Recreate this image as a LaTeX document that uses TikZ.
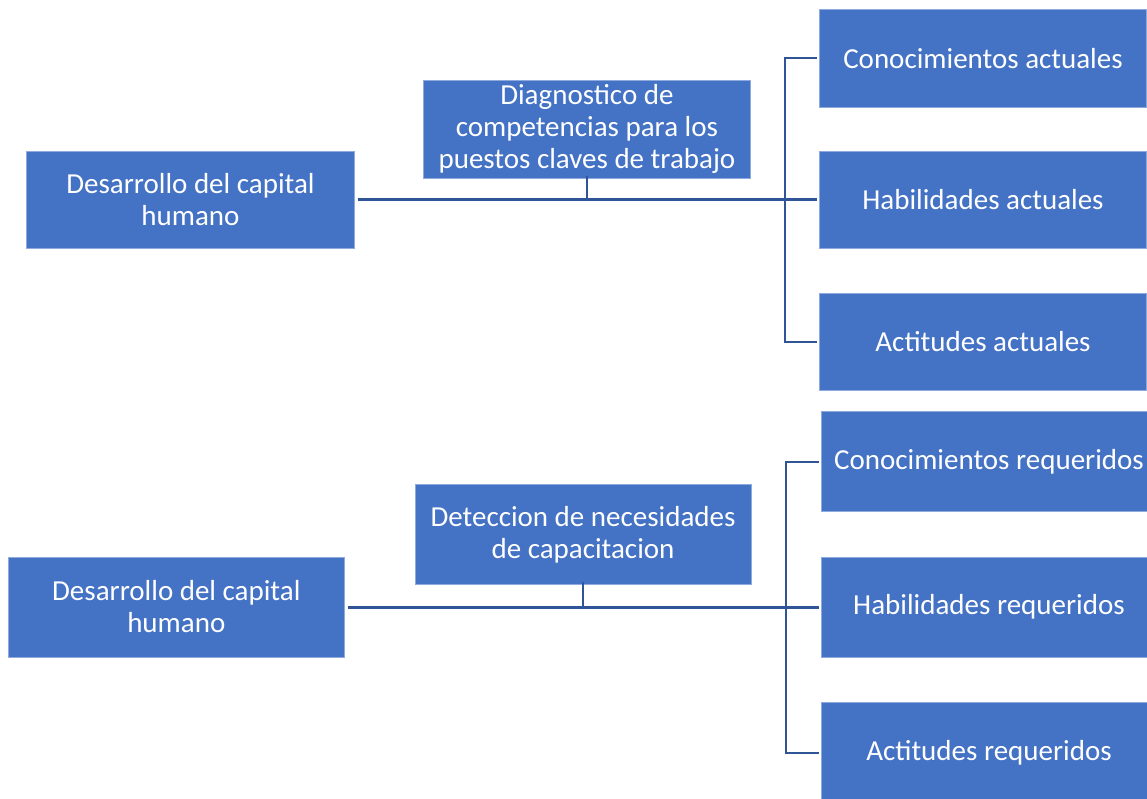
\documentclass[tikz,border=0pt]{standalone}
\usepackage{fontspec}
\setmainfont{Carlito}
\definecolor{boxblue}{HTML}{4472C4}
\definecolor{boxedge}{HTML}{8FAADC}
\definecolor{linkblue}{HTML}{2F5597}
\begin{document}
\begin{tikzpicture}[x=1pt,y=-1pt,
  box/.style={rectangle, fill=boxblue, draw=boxedge, line width=0.8pt, inner sep=0pt,
    text=white, align=center, font=\fontsize{29}{32}\selectfont},
  topbox/.style={box, minimum width=327.5pt, minimum height=97.5pt},
  botbox/.style={box, minimum width=336pt, minimum height=100pt},
  mainlink/.style={draw=linkblue, line width=3pt},
  sublink/.style={draw=linkblue, line width=2pt}]
\useasboundingbox (0,0) rectangle (1147,799);
\clip (0,0) rectangle (1147,799);
\fill[white] (0,0) rectangle (1147,799);

% top group
\node[topbox] (A1) at (190.5,200) {Desarrollo del capital\\humano};
\node[topbox, minimum height=98.3pt] (B1) at (586.9,129.2) {Diagnostico de\\competencias para los\\puestos claves de trabajo};
\node[topbox] (C1) at (983,58.3) {Conocimientos actuales};
\node[topbox] (C2) at (983,200) {Habilidades actuales};
\node[topbox] (C3) at (983,342) {Actitudes actuales};
\coordinate (k1) at (784.5,200);

\draw[mainlink] ([xshift=3pt]A1.east) -- ([xshift=-2pt]C2.west);
\draw[sublink] ([yshift=3pt]B1.south) -- (B1.south |- A1.east);
\draw[sublink] ([xshift=-2pt]C1.west) -| (k1 |- C3.west) -- ([xshift=-2pt]C3.west);

% bottom group
\node[botbox] (A2) at (176.3,607) {Desarrollo del capital\\humano};
\node[botbox] (B2) at (583,534.3) {Deteccion de necesidades\\de capacitacion};
\node[botbox] (D1) at (989,461.7) {Conocimientos requeridos};
\node[botbox] (D2) at (989,607) {Habilidades requeridos};
\node[botbox] (D3) at (989,752.7) {Actitudes requeridos};
\coordinate (k2) at (785.8,607);

\draw[mainlink] ([xshift=3pt]A2.east) -- ([xshift=-2pt]D2.west);
\draw[sublink] ([yshift=3pt]B2.south) -- (B2.south |- A2.east);
\draw[sublink] ([xshift=-2pt]D1.west) -| (k2 |- D3.west) -- ([xshift=-2pt]D3.west);
\end{tikzpicture}
\end{document}
